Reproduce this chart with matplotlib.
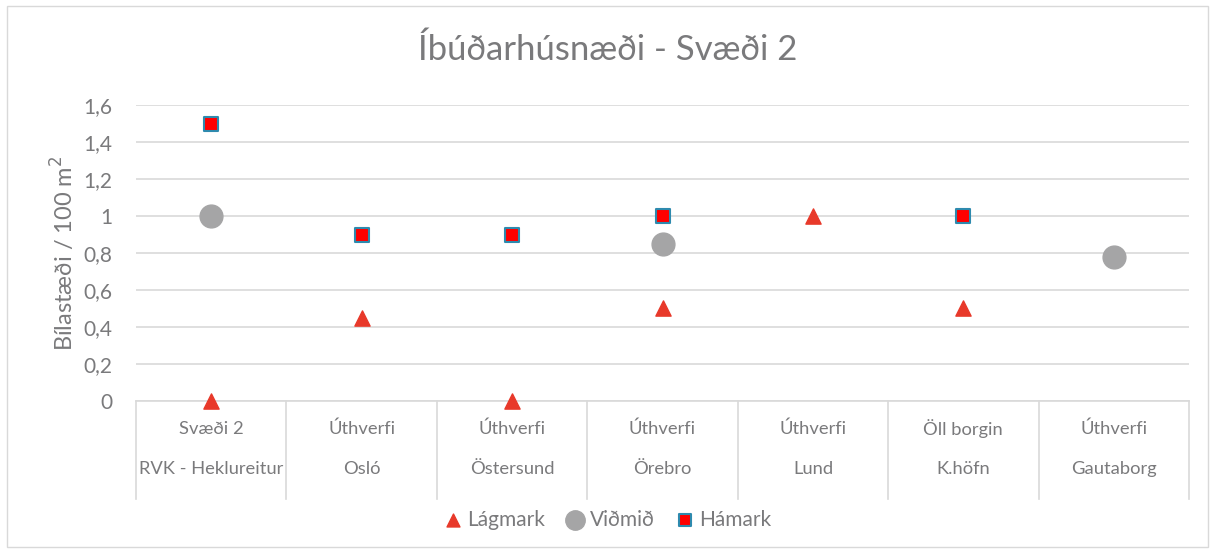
import matplotlib
matplotlib.use("Agg")
import matplotlib.pyplot as plt
import numpy as np

# Gögn
efri_flokkar = ["Svæði 2", "Úthverfi", "Úthverfi", "Úthverfi", "Úthverfi", "Öll borgin", "Úthverfi"]
nedri_flokkar = ["RVK - Heklureitur", "Osló", "Östersund", "Örebro", "Lund", "K.höfn", "Gautaborg"]
lagmark = [0, 0.45, 0, 0.5, 1.0, 0.5, np.nan]
vidmid = [1.0, np.nan, np.nan, 0.85, np.nan, np.nan, 0.78]
hamark = [1.5, 0.9, 0.9, 1.0, np.nan, 1.0, np.nan]
y_ticks = [0, 0.2, 0.4, 0.6, 0.8, 1.0, 1.2, 1.4, 1.6]
y_labels = ["0", "0,2", "0,4", "0,6", "0,8", "1", "1,2", "1,4", "1,6"]

plt.rcParams['font.family'] = ['Lato', 'DejaVu Sans']
txt = '#7A7A7C'
grid = '#D9D9D9'

fig = plt.figure(figsize=(12.15, 5.53), dpi=100)
ax = fig.add_axes([0.112, 0.275, 0.8666, 0.535])

x = np.arange(len(nedri_flokkar))
ax.scatter(x, lagmark, marker='^', s=120, color='#E8392A', zorder=3, label='Lágmark', clip_on=False)
ax.scatter(x, vidmid, marker='o', s=270, color='#A5A5A6', zorder=3, label='Viðmið', clip_on=False)
ax.scatter(x, hamark, marker='s', s=110, color='#FF0000', edgecolors='#2E8AAE', linewidths=1.5,
           zorder=4, label='Hámark', clip_on=False)

ax.set_xlim(-0.5, len(x) - 0.5)
ax.set_ylim(0, 1.6)
ax.set_yticks(y_ticks)
ax.set_yticklabels(y_labels, fontsize=15, color=txt)
ax.tick_params(axis='y', length=0, pad=17)
ax.set_xticks([])
ax.grid(axis='y', color=grid, linewidth=1.2, zorder=0)
for s in ['top', 'right', 'left']:
    ax.spines[s].set_visible(False)
ax.spines['bottom'].set_color(grid)
ax.spines['bottom'].set_linewidth(1.2)

# tvöfaldir flokkamerkimiðar
trans = ax.get_xaxis_transform()
for i in range(len(x) + 1):
    ax.plot([i - 0.5, i - 0.5], [0, -0.33], transform=trans, color=grid, lw=1.2, clip_on=False)
for i in range(len(x)):
    ax.text(i, -0.095, efri_flokkar[i], transform=trans, ha='center', va='center', fontsize=13.2, color=txt)
    ax.text(i, -0.23, nedri_flokkar[i], transform=trans, ha='center', va='center', fontsize=13.2, color=txt)

ax.set_ylabel('Bílastæði / 100 m$^2$', fontsize=17, color=txt, labelpad=4)
fig.text(0.5, 0.91, 'Íbúðarhúsnæði - Svæði 2', ha='center', va='center', fontsize=25, color=txt)

fig.legend(loc='center', bbox_to_anchor=(0.5, 0.06), ncol=3, frameon=False, fontsize=15,
           labelcolor=txt, handlelength=0.9, handletextpad=0.25, columnspacing=1.0, markerscale=0.85)

fig.patches.append(plt.Rectangle((0.006, 0.01), 0.988, 0.98, transform=fig.transFigure,
                                 fill=False, edgecolor=grid, lw=1))

fig.savefig('out.png', dpi=100)
